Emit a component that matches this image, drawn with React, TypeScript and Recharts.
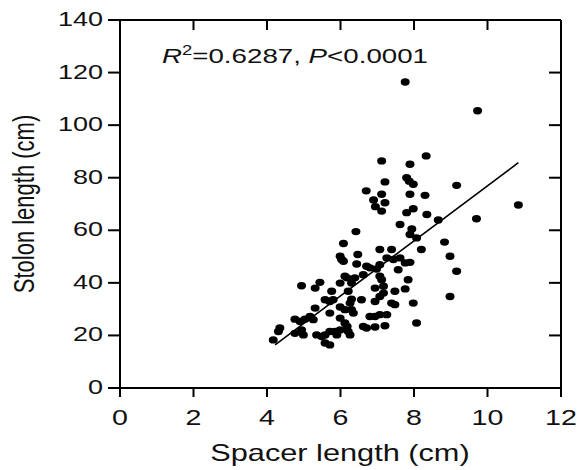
import React from 'react'
import {
  Scatter,
  ScatterChart,
  XAxis,
  YAxis,
} from 'recharts'

const spacerLength = [
  7.76, 9.73, 10.84, 9.16, 9.7, 8.66, 8.83, 8.98, 9.16, 8.98,
  8.33, 7.12, 7.89, 7.21, 7.8, 7.87, 7.98, 7.12, 7.89, 8.3,
  7.21, 7.12, 7.98, 7.8, 8.35, 7.62, 7.94, 7.89, 8.07, 8.2,
  7.39, 7.07, 7.26, 7.44, 7.62, 7.76, 7.89, 7.07, 7.57, 7.07,
  7.12, 7.84, 7.17, 7.76, 7.48, 7.17, 7.07, 7.39, 7.48, 7.98,
  8.07, 7.07, 7.26, 7.21, 6.94, 6.7, 6.9, 6.95, 6.42, 6.08,
  5.99, 6.03, 6.08, 6.47, 6.44, 6.71, 6.8, 6.98, 6.12, 6.18,
  6.62, 4.94, 5.44, 5.31, 5.99, 6.39, 6.3, 5.76, 6.94, 6.21,
  5.58, 5.71, 5.8, 6.3, 6.26, 6.57, 6.94, 5.31, 5.99, 6.12,
  5.71, 6.3, 6.35, 6.8, 6.94, 4.76, 4.9, 5.03, 5.17, 5.26,
  5.99, 6.12, 6.18, 6.62, 6.71, 4.35, 4.31, 4.94, 4.76, 4.99,
  5.35, 5.49, 5.58, 5.71, 5.85, 5.9, 5.99, 6.21, 6.26, 5.58,
  5.71, 4.17,
]

const stolonLength = [
  116.4, 105.5, 69.6, 77.1, 64.4, 63.9, 55.5, 50.1, 44.4, 34.8,
  88.3, 86.4, 85.1, 78.4, 80, 78.7, 77.5, 73.7, 73.7, 73.3,
  70.5, 67.3, 68.2, 66.7, 66, 62.2, 60.5, 58.4, 57.1, 52.7,
  52.7, 52.7, 49.5, 48.9, 49.5, 47.6, 47.8, 46.9, 45, 42.5,
  41.2, 41.2, 38.7, 37.7, 36.8, 36.1, 34.8, 32.3, 31.7, 32.3,
  24.7, 27.9, 27.9, 23.7, 23.2, 75, 71.5, 69, 59.5, 55,
  50.1, 48.9, 48.2, 50.8, 47.2, 46.3, 45.7, 45.3, 42.5, 41.9,
  43.1, 38.9, 40.2, 38, 39.9, 41.9, 39.9, 36.8, 38, 36.8,
  33.6, 32.9, 33.6, 33.8, 32.3, 33.6, 32.9, 30.4, 30.8, 29.8,
  28.5, 29.8, 28.5, 27.2, 27.2, 26.2, 25.3, 26.2, 27.2, 26,
  26.6, 24.7, 23.4, 23.4, 22.8, 22.8, 21.5, 22.1, 20.8, 20.2,
  20.2, 19.6, 20.2, 21.5, 21.5, 20.2, 22.1, 21.5, 20.2, 17.1,
  16.4, 18.3,
]

// fitted line end points
const fitX = [4.22, 10.84]
const fitY = [16.4, 85.7]

const xTicks = [0, 2, 4, 6, 8, 10, 12]
const yTicks = [0, 20, 40, 60, 80, 100, 120, 140]

const points = spacerLength.map((x, i) => ({ x, y: stolonLength[i] }))
const fitPoints = fitX.map((x, i) => ({ x, y: fitY[i] }))

const FONT = '"Liberation Sans", Arial, sans-serif'

// chart layout
const W = 581
const H = 470
const MARGIN = { top: 20, right: 20, bottom: 0, left: 0 }
const Y_AXIS_W = 120
const X_AXIS_H = 82
const plotLeft = MARGIN.left + Y_AXIS_W
const plotRight = W - MARGIN.right
const plotTop = MARGIN.top
const plotBottom = H - MARGIN.bottom - X_AXIS_H
const xMax = xTicks[xTicks.length - 1]
const yMax = yTicks[yTicks.length - 1]

const XTick = (props: any) => {
  const { x, y, payload } = props
  return (
    <g transform={`translate(${x},${y})`}>
      <text
        transform='scale(1.3,1)'
        x={0}
        y={24}
        textAnchor='middle'
        fontSize={22}
        fontFamily={FONT}
        fill='#111'
      >
        {payload.value}
      </text>
    </g>
  )
}

const YTick = (props: any) => {
  const { x, y, payload } = props
  return (
    <g transform={`translate(${x},${y})`}>
      <text
        transform='scale(1.35,1)'
        x={0}
        y={6}
        textAnchor='end'
        fontSize={20}
        fontFamily={FONT}
        fill='#111'
      >
        {payload.value}
      </text>
    </g>
  )
}

const Dot = (props: any) => (
  <ellipse cx={props.cx} cy={props.cy} rx={4.5} ry={3.7} fill='#000' />
)

const NoDot = () => <g />

// top and right edges of the box with their inward ticks
const Frame = () => {
  const w = plotRight - plotLeft
  const h = plotBottom - plotTop
  return (
    <g stroke='#000' strokeWidth={2}>
      <line x1={plotLeft} y1={plotTop} x2={plotRight} y2={plotTop} />
      <line x1={plotRight} y1={plotTop} x2={plotRight} y2={plotBottom} />
      {xTicks.slice(1, -1).map((t) => {
        const px = plotLeft + (t / xMax) * w
        return <line key={`tx${t}`} x1={px} x2={px} y1={plotTop} y2={plotTop + 10} />
      })}
      {yTicks.slice(1, -1).map((t) => {
        const py = plotBottom - (t / yMax) * h
        return <line key={`ty${t}`} x1={plotRight} x2={plotRight - 12} y1={py} y2={py} />
      })}
    </g>
  )
}

export default function App() {
  return (
    <div style={{ position: 'absolute', left: 0, top: 0, background: '#fff' }}>
      <ScatterChart width={W} height={H} margin={MARGIN}>
        <XAxis
          type='number'
          dataKey='x'
          domain={[0, xMax]}
          ticks={xTicks}
          height={X_AXIS_H}
          tickSize={9}
          tickMargin={4}
          tick={<XTick />}
          stroke='#000'
          strokeWidth={2}
          allowDataOverflow
        />
        <YAxis
          type='number'
          dataKey='y'
          domain={[0, yMax]}
          ticks={yTicks}
          width={Y_AXIS_W}
          tickSize={12}
          tickMargin={5}
          tick={<YTick />}
          stroke='#000'
          strokeWidth={2}
          allowDataOverflow
        />
        <Scatter
          data={fitPoints}
          line={{ stroke: '#000', strokeWidth: 1.6 }}
          lineType='joint'
          shape={<NoDot />}
          isAnimationActive={false}
        />
        <Scatter data={points} shape={<Dot />} isAnimationActive={false} />
        <Frame />
        <text
          transform='translate(162,63) scale(1.32,1)'
          fontSize={21}
          fontFamily={FONT}
          fill='#111'
        >
          <tspan fontStyle='italic'>R</tspan>
          <tspan fontSize={14} dy={-8}>2</tspan>
          <tspan dy={8}>=0.6287, </tspan>
          <tspan fontStyle='italic'>P</tspan>
          <tspan>{'<0.0001'}</tspan>
        </text>
        <text
          transform='translate(340,461) scale(1.28,1)'
          textAnchor='middle'
          fontSize={24}
          fontFamily={FONT}
          fill='#111'
        >
          Spacer length (cm)
        </text>
        <text
          transform='translate(24,204) scale(1.35,1) rotate(-90)'
          textAnchor='middle'
          dy='0.35em'
          fontSize={22}
          fontFamily={FONT}
          fill='#111'
        >
          Stolon length (cm)
        </text>
      </ScatterChart>
    </div>
  )
}
